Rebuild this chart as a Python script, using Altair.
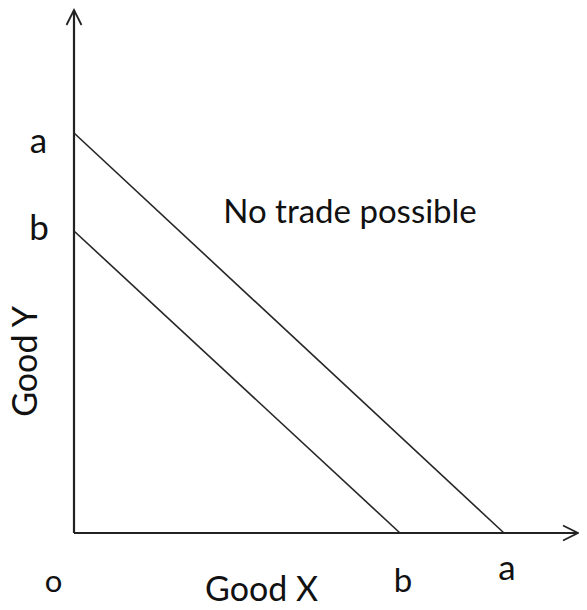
import altair as alt
import pandas as pd

# Budget-line intercepts (units: Good X, Good Y)
line_names = ["a", "b"]
y_intercepts = [10.0, 7.55]
x_intercepts = [10.75, 8.15]

# Axis extents
x_axis_end = 12.6
y_axis_end = 13.075

# Labels
label_texts = ["a", "b", "o", "b", "a"]
label_x = [-0.89, -0.875, -0.51, 8.225, 10.825]
label_y = [9.5, 7.325, -1.475, -1.475, -1.175]
label_sizes = [35, 35, 31, 33, 35]

title_texts = ["Good X", "Good Y", "No trade possible"]
title_x = [4.69, -0.925, 6.9]
title_y = [-1.7, 4.29, 7.75]
title_angle = [0, 270, 0]
title_sizes = [34, 34, 33]

W, H = 571, 594
x_scale = alt.Scale(domain=[-1.65, -1.65 + W / 40], nice=False, zero=False)
y_scale = alt.Scale(domain=[13.125 - H / 40, 13.125], nice=False, zero=False)
X = lambda f: alt.X(f, type="quantitative", scale=x_scale, axis=None)
Y = lambda f: alt.Y(f, type="quantitative", scale=y_scale, axis=None)

seg_rows = []
for n, yi, xi in zip(line_names, y_intercepts, x_intercepts):
    seg_rows.append({"name": n, "x": 0, "y": yi, "x2": xi, "y2": 0})
segs = pd.DataFrame(seg_rows)

axes_df = pd.DataFrame({
    "x": [0, 0], "y": [0, 0],
    "x2": [0, x_axis_end], "y2": [y_axis_end, 0],
})

arrows_df = pd.DataFrame({
    "x": [0, x_axis_end], "y": [y_axis_end, 0], "ang": [0, 90],
})

labels_df = pd.DataFrame({"t": label_texts, "x": label_x, "y": label_y, "s": label_sizes})
titles_df = pd.DataFrame({"t": title_texts, "x": title_x, "y": title_y,
                          "a": title_angle, "s": title_sizes})

budget = alt.Chart(segs).mark_rule(color="#262626", strokeWidth=1.6).encode(
    x=X("x"), y=Y("y"), x2="x2", y2="y2"
)
axes = alt.Chart(axes_df).mark_rule(color="#222222", strokeWidth=2.2).encode(
    x=X("x"), y=Y("y"), x2="x2", y2="y2"
)
arrows = alt.Chart(arrows_df).mark_point(
    shape="M-0.5,1L0,0L0.5,1", filled=False, color="#222222", strokeWidth=1.8,
    size=900, opacity=1
).encode(x=X("x"), y=Y("y"), angle=alt.Angle("ang:Q", scale=None))

labels = alt.Chart(labels_df).mark_text(
    font="Lato", color="#111111", align="center", baseline="alphabetic"
).encode(x=X("x"), y=Y("y"), text="t:N", size=alt.Size("s:Q", scale=None))

titles = alt.Chart(titles_df).mark_text(
    font="Lato", color="#111111", align="center", baseline="alphabetic"
).encode(x=X("x"), y=Y("y"), text="t:N", size=alt.Size("s:Q", scale=None),
         angle=alt.Angle("a:Q", scale=None))

chart = alt.layer(axes, budget, arrows, labels, titles).properties(
    width=W, height=H, autosize=alt.AutoSizeParams(type="none"), padding=0,
    background="white"
).configure_view(stroke=None)

chart.save("out.html", embed_options={"renderer": "svg", "actions": False})
